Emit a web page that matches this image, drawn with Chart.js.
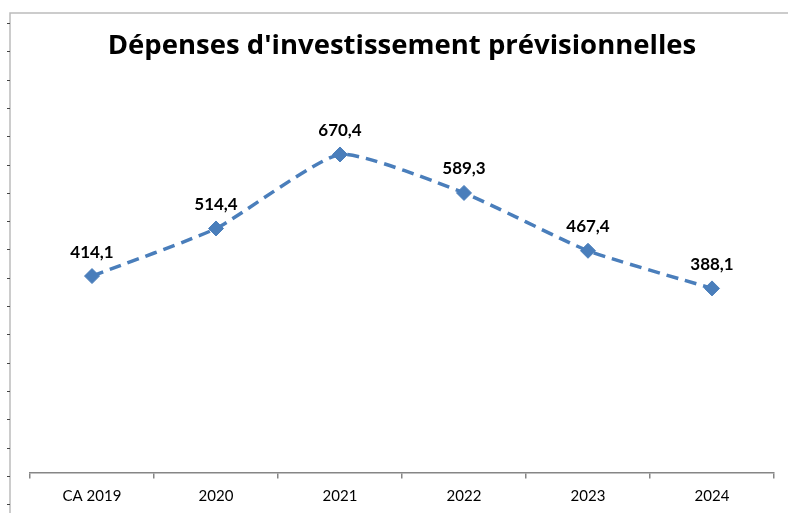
<!DOCTYPE html>
<html>
<head>
<meta charset="utf-8">
<script src="https://cdn.jsdelivr.net/npm/chart.js@4"></script>
<style>
  html, body { margin: 0; padding: 0; background: #fff; }
  #wrap { width: 788px; height: 513px; }
</style>
</head>
<body>
<div id="wrap"><canvas id="chart" width="788" height="513"></canvas></div>
<script>
// ── Data ──────────────────────────────────────────────────────
const years = ['CA 2019', '2020', '2021', '2022', '2023', '2024'];
const depenses = [414.1, 514.4, 670.4, 589.3, 467.4, 388.1];
const chartTitle = "Dépenses d'investissement prévisionnelles";

const BLUE = '#4a7ebb';
const FONT = 'Lato, "Open Sans", sans-serif';

function frNum(v) {
  return v.toFixed(1).replace('.', ',');
}

// ── Frame (cropped border of the original sheet) ──────────────
const framePlugin = {
  id: 'frame',
  beforeDraw(chart) {
    const ctx = chart.ctx;
    ctx.save();
    ctx.strokeStyle = '#bcbcbc';
    ctx.lineWidth = 1.5;
    ctx.beginPath();
    ctx.moveTo(10, 513);
    ctx.lineTo(10, 13);
    ctx.lineTo(788, 13);
    ctx.stroke();
    ctx.strokeStyle = '#444';
    ctx.lineWidth = 1;
    for (let y = 23; y < 513; y += 28.3) {
      ctx.beginPath();
      ctx.moveTo(7, Math.round(y) + 0.5);
      ctx.lineTo(10, Math.round(y) + 0.5);
      ctx.stroke();
    }
    ctx.restore();
  }
};

// ── Value labels above points ─────────────────────────────────
const valueLabels = {
  id: 'valueLabels',
  afterDatasetsDraw(chart) {
    const ctx = chart.ctx;
    const meta = chart.getDatasetMeta(0);
    ctx.save();
    ctx.font = 'bold 17px ' + FONT;
    ctx.fillStyle = '#000';
    ctx.textAlign = 'center';
    ctx.textBaseline = 'middle';
    meta.data.forEach((pt, i) => {
      ctx.fillText(frNum(depenses[i]), pt.x, pt.y - 24);
    });
    ctx.restore();
  }
};

new Chart(document.getElementById('chart'), {
  type: 'line',
  data: {
    labels: years,
    datasets: [{
      data: depenses,
      borderColor: BLUE,
      backgroundColor: BLUE,
      borderWidth: 3.5,
      borderDash: [12, 7],
      tension: 0.17,
      pointStyle: 'rectRot',
      pointRadius: 7.5,
      pointBackgroundColor: BLUE,
      pointBorderColor: BLUE,
      pointBorderWidth: 1,
      fill: false
    }]
  },
  options: {
    responsive: false,
    animation: false,
    layout: { padding: { top: 16, left: 30, right: 14, bottom: 0 } },
    plugins: {
      legend: { display: false },
      tooltip: { enabled: false },
      title: {
        display: true,
        text: chartTitle,
        color: '#000',
        font: { family: '"Open Sans", Lato, sans-serif', size: 27.5, weight: 'bold' },
        padding: { top: 14, bottom: 30 }
      }
    },
    scales: {
      x: {
        offset: true,
        grid: { display: true, offset: true, drawOnChartArea: false, tickLength: 6, color: '#868686', lineWidth: 1.5 },
        border: { display: true, color: '#868686', width: 1.5 },
        ticks: { color: '#000', font: { family: FONT, size: 15, lineHeight: 1.1 }, padding: 9, maxRotation: 0 }
      },
      y: {
        display: false,
        min: 0,
        max: 800
      }
    }
  },
  plugins: [framePlugin, valueLabels]
});
</script>
</body>
</html>
